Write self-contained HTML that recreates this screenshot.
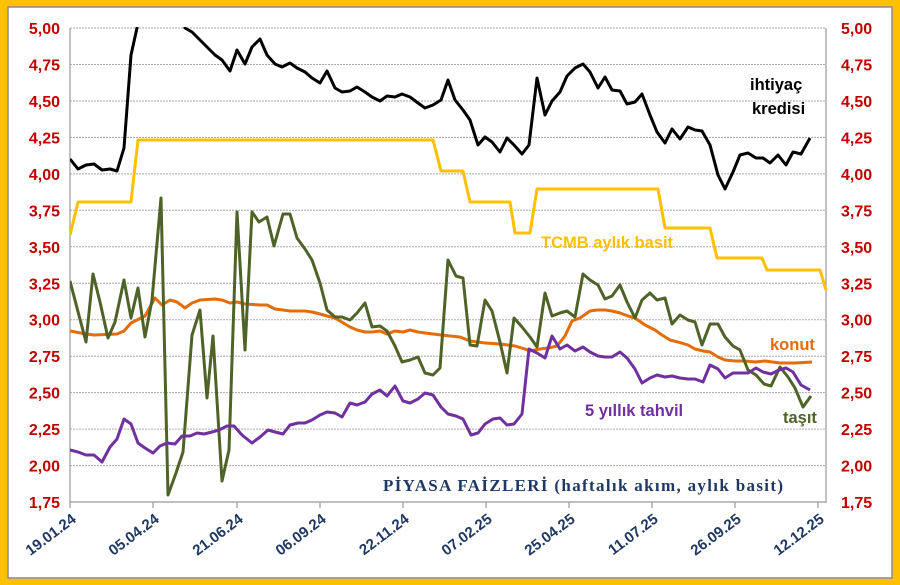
<!DOCTYPE html>
<html><head><meta charset="utf-8"><style>
body{margin:0;background:#FFC000;}
svg{display:block}
</style></head><body>
<svg width="900" height="585" xmlns="http://www.w3.org/2000/svg" font-family="Liberation Sans, sans-serif">
<rect x="0" y="0" width="900" height="585" fill="#FFC000"/>
<rect x="8" y="7" width="884" height="571" fill="#fff" stroke="#8a8a8a" stroke-width="1.5"/>
<defs><clipPath id="c"><rect x="70" y="27" width="760" height="476"/></clipPath></defs>
<g stroke="#aaa" stroke-width="1" stroke-dasharray="2,1">
<line x1="70" y1="28" x2="826" y2="28"/><line x1="70" y1="64.5" x2="826" y2="64.5"/><line x1="70" y1="101" x2="826" y2="101"/><line x1="70" y1="137.4" x2="826" y2="137.4"/><line x1="70" y1="173.9" x2="826" y2="173.9"/><line x1="70" y1="210.3" x2="826" y2="210.3"/><line x1="70" y1="246.8" x2="826" y2="246.8"/><line x1="70" y1="283.3" x2="826" y2="283.3"/><line x1="70" y1="319.7" x2="826" y2="319.7"/><line x1="70" y1="356.2" x2="826" y2="356.2"/><line x1="70" y1="392.6" x2="826" y2="392.6"/><line x1="70" y1="429.1" x2="826" y2="429.1"/><line x1="70" y1="465.6" x2="826" y2="465.6"/>
</g>
<g stroke="#999" stroke-width="1.2">
<line x1="70" y1="28" x2="70" y2="503"/><line x1="826" y1="28" x2="826" y2="503"/><line x1="70" y1="502" x2="826" y2="502"/>
<line x1="70" y1="502" x2="70" y2="508"/><line x1="153" y1="502" x2="153" y2="508"/><line x1="237" y1="502" x2="237" y2="508"/><line x1="320" y1="502" x2="320" y2="508"/><line x1="403" y1="502" x2="403" y2="508"/><line x1="486" y1="502" x2="486" y2="508"/><line x1="569" y1="502" x2="569" y2="508"/><line x1="652" y1="502" x2="652" y2="508"/><line x1="735" y1="502" x2="735" y2="508"/><line x1="818" y1="502" x2="818" y2="508"/>
</g>
<g clip-path="url(#c)" fill="none" stroke-width="3" stroke-linejoin="round">
<polyline stroke="#FFC000" points="70,235 78,202 131,202 138,140 433,140 441,171 463,171 470,202 510,202 515,233 530,233 537,189 658,189 665,228 710,228 717,258 762,258 767,270 820,270 826,290"/>
<polyline stroke="#E46C0A" points="70,331 86,334 94,335 117,334 124,331 131,323 145,316 155,298 162,305 170,300 177,302 185,308 192,303 200,300 215,299 222,300 230,303 237,302 245,304 260,305 267,305 275,309 283,310 290,311 305,311 312,312 320,314 327,316 335,318 340,321 350,327 357,330 365,332 372,332 380,331 387,334 395,331 403,332 410,330 418,332 425,333 433,334 441,335 450,336 460,337 470,341 485,343 500,344 515,346 525,349 530,351 540,349 548,348 557,346 565,336 572,321 580,318 590,311 597,310 605,310 612,311 620,313 628,316 635,318 645,325 655,330 662,335 670,340 678,342 688,345 695,349 703,351 710,352 718,357 725,360 735,361 745,361 755,362 765,361 780,363 795,363 812,362"/>
<polyline stroke="#4F6228" points="70,281 76,304 86,342 93,274 100,302 108,338 115,322 124,280 131,318 138,288 145,337 152,300 161,198 168,495 176,473 183,452 192,335 200,310 207,398 213,336 222,481 229,450 237,212 245,350 252,212 259,222 267,217 274,246 283,214 290,214 297,238 305,249 312,260 320,283 327,310 335,317 342,317 350,320 357,313 365,303 372,327 380,326 387,331 395,346 402,362 410,360 418,357 425,373 433,375 440,368 448,260 456,276 463,278 470,345 477,346 485,300 492,311 500,342 507,373 514,318 522,327 530,337 537,347 545,293 552,316 560,313 567,311 575,317 583,274 590,280 598,285 605,299 612,296 620,285 627,302 635,318 642,300 650,293 657,300 665,298 672,324 680,315 688,320 695,322 702,345 710,324 718,324 725,337 733,346 740,350 748,370 756,375 764,384 771,386 780,367 788,377 795,388 803,407 811,396"/>
<polyline stroke="#7030A0" points="70,450 78,452 86,455 94,455 102,462 110,447 117,439 124,419 131,424 138,443 145,448 153,453 160,446 167,443 175,444 182,436 190,436 197,433 204,434 212,432 219,430 227,426 234,426 242,435 252,443 260,437 268,430 275,432 283,434 290,425 298,423 305,423 312,420 320,415 327,412 335,413 342,417 350,403 357,405 365,402 372,394 380,390 387,396 395,386 403,401 410,403 418,399 425,393 433,395 441,407 448,414 456,416 463,419 471,435 478,433 485,424 493,419 500,418 507,425 514,424 522,414 529,349 537,353 545,358 552,336 560,349 567,345 575,351 583,347 590,352 598,356 605,357 612,357 620,352 627,358 635,369 642,383 650,378 657,375 665,377 672,376 680,378 688,379 695,379 703,382 710,365 718,369 725,378 733,373 740,373 748,373 756,368 763,372 771,374 779,370 786,368 793,372 801,385 810,390"/>
<polyline stroke="#000" points="70,159 78,169 86,165 94,164 102,170 110,169 117,171 124,148 131,55 137,28 140,0 180,0 185,28 192,32 200,40 208,48 215,55 222,60 230,71 237,50 245,64 252,47 260,39 267,55 275,64 282,67 290,63 297,68 305,72 312,78 320,83 327,71 335,88 342,92 350,91 357,87 365,92 372,97 380,101 387,96 395,97 402,94 410,97 418,103 425,108 433,105 441,100 448,80 455,100 463,110 470,120 478,145 485,137 492,142 500,152 507,138 514,145 522,154 529,145 537,78 545,115 552,101 560,92 567,76 575,68 583,64 590,72 598,88 605,77 612,90 620,91 627,104 635,102 642,94 650,115 657,132 665,143 672,129 680,139 688,127 695,130 702,131 710,145 718,175 725,189 733,172 740,155 748,153 756,158 763,158 770,163 778,155 786,165 793,152 801,154 810,138"/>
</g>
<g fill="#C00000" font-weight="bold" font-size="16">
<g text-anchor="end"><text x="60" y="34">5,00</text><text x="60" y="70.5">4,75</text><text x="60" y="107">4,50</text><text x="60" y="143.4">4,25</text><text x="60" y="179.9">4,00</text><text x="60" y="216.3">3,75</text><text x="60" y="252.8">3,50</text><text x="60" y="289.3">3,25</text><text x="60" y="325.7">3,00</text><text x="60" y="362.2">2,75</text><text x="60" y="398.6">2,50</text><text x="60" y="435.1">2,25</text><text x="60" y="471.6">2,00</text><text x="60" y="508">1,75</text></g>
<g><text x="841" y="34">5,00</text><text x="841" y="70.5">4,75</text><text x="841" y="107">4,50</text><text x="841" y="143.4">4,25</text><text x="841" y="179.9">4,00</text><text x="841" y="216.3">3,75</text><text x="841" y="252.8">3,50</text><text x="841" y="289.3">3,25</text><text x="841" y="325.7">3,00</text><text x="841" y="362.2">2,75</text><text x="841" y="398.6">2,50</text><text x="841" y="435.1">2,25</text><text x="841" y="471.6">2,00</text><text x="841" y="508">1,75</text></g>
</g>
<g fill="#1F3864" font-weight="bold" font-size="15" text-anchor="end">
<text transform="translate(77,521) rotate(-37)">19.01.24</text>
<text transform="translate(160,521) rotate(-37)">05.04.24</text>
<text transform="translate(244,521) rotate(-37)">21.06.24</text>
<text transform="translate(327,521) rotate(-37)">06.09.24</text>
<text transform="translate(410,521) rotate(-37)">22.11.24</text>
<text transform="translate(493,521) rotate(-37)">07.02.25</text>
<text transform="translate(576,521) rotate(-37)">25.04.25</text>
<text transform="translate(659,521) rotate(-37)">11.07.25</text>
<text transform="translate(742,521) rotate(-37)">26.09.25</text>
<text transform="translate(825,521) rotate(-37)">12.12.25</text>
</g>
<g font-weight="bold" font-size="16.5">
<text x="750" y="90" fill="#000">ihtiyaç</text>
<text x="752" y="114" fill="#000">kredisi</text>
<text x="541" y="248" fill="#FFC000">TCMB aylık basit</text>
<text x="770" y="350" fill="#E46C0A">konut</text>
<text x="585" y="416" fill="#7030A0">5 yıllık tahvil</text>
<text x="783" y="423" fill="#4F6228">taşıt</text>
</g>
<text x="383" y="491" fill="#1F3864" font-family="Liberation Serif, serif" font-weight="bold" font-size="17" textLength="400" lengthAdjust="spacing">PİYASA FAİZLERİ (haftalık akım, aylık basit)</text>
</svg>
</body></html>
